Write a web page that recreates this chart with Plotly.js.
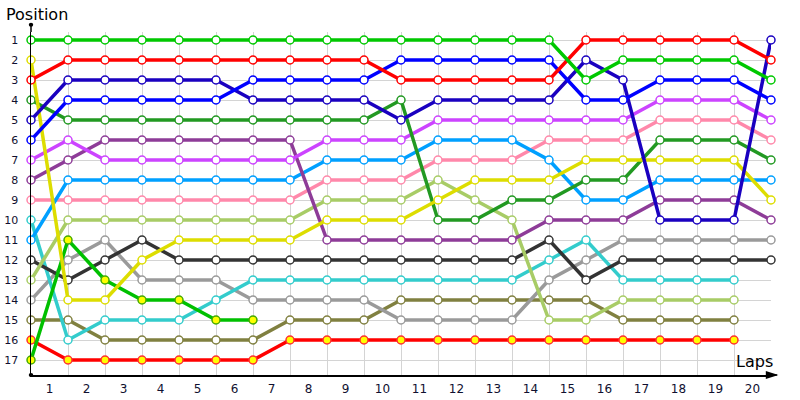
<!DOCTYPE html>
<html>
<head>
<meta charset="utf-8">
<script src="https://cdn.plot.ly/plotly-3.0.1.min.js"></script>
<style>html,body{margin:0;padding:0;background:#fff;}#chart{width:800px;height:400px;}</style>
</head>
<body>
<div id="chart"></div>
<script>
// Laps: 0 = start (grid), 1..20
const laps = [0,1,2,3,4,5,6,7,8,9,10,11,12,13,14,15,16,17,18,19,20];
const lapTickVals = [0.5,1.5,2.5,3.5,4.5,5.5,6.5,7.5,8.5,9.5,10.5,11.5,12.5,13.5,14.5,15.5,16.5,17.5,18.5,19.5];
const lapTickText = ['1','2','3','4','5','6','7','8','9','10','11','12','13','14','15','16','17','18','19','20'];
const positions = [1,2,3,4,5,6,7,8,9,10,11,12,13,14,15,16,17];

// Position of each car after each lap
const carLime      = [1,1,1,1,1,1,1,1,1,1,1,1,1,1,1,3,2,2,2,2,3];
const carRed       = [3,2,2,2,2,2,2,2,2,2,3,3,3,3,3,1,1,1,1,1,2];
const carBlue      = [6,4,4,4,4,4,3,3,3,3,2,2,2,2,2,4,4,3,3,3,4];
const carNavy      = [5,3,3,3,3,3,4,4,4,4,5,4,4,4,4,2,3,10,10,10,1];
const carForest    = [4,5,5,5,5,5,5,5,5,5,4,10,10,9,9,8,8,6,6,6,7];
const carPurple    = [8,7,6,6,6,6,6,6,11,11,11,11,11,11,10,10,10,9,9,9,10];
const carViolet    = [7,6,7,7,7,7,7,7,6,6,6,5,5,5,5,5,5,4,4,4,5];
const carSky       = [11,8,8,8,8,8,8,8,7,7,7,6,6,6,7,9,9,8,8,8,8];
const carPink      = [9,9,9,9,9,9,9,9,8,8,8,7,7,7,6,6,6,5,5,5,6];
const carPaleGreen = [13,10,10,10,10,10,10,10,9,9,9,8,9,10,15,15,14,14,14,14];
const carYellow    = [2,14,14,12,11,11,11,11,10,10,10,9,8,8,8,7,7,7,7,7,9];
const carCharcoal  = [12,13,12,11,12,12,12,12,12,12,12,12,12,12,11,13,12,12,12,12,12];
const carGray      = [14,12,11,13,13,13,14,14,14,14,15,15,15,15,13,12,11,11,11,11,11];
const carCyan      = [10,16,15,15,15,14,13,13,13,13,13,13,13,13,12,11,13,13,13,13];
const carOlive     = [15,15,16,16,16,16,16,15,15,15,14,14,14,14,14,14,15,15,15,15];
const carRedLapped = [16,17,17,17,17,17,17,16,16,16,16,16,16,16,16,16,16,16,16,16];
const carLimeOut   = [17,11,13,14,14,15,15];

const cars = [
  {y: carOlive,     line: '#808040', fill: '#ffffff', edge: '#808040'},
  {y: carGray,      line: '#9a9a9a', fill: '#ffffff', edge: '#9a9a9a'},
  {y: carCyan,      line: '#33cccc', fill: '#ffffff', edge: '#33cccc'},
  {y: carCharcoal,  line: '#333333', fill: '#ffffff', edge: '#333333'},
  {y: carRedLapped, line: '#ff0000', fill: '#ffff00', edge: '#ff3030'},
  {y: carLimeOut,   line: '#00c000', fill: '#ffff00', edge: '#44aa00'},
  {y: carPaleGreen, line: '#a8cc66', fill: '#ffffff', edge: '#a8cc66'},
  {y: carPink,      line: '#ff88aa', fill: '#ffffff', edge: '#ff88aa'},
  {y: carSky,       line: '#00a0ff', fill: '#ffffff', edge: '#00a0ff'},
  {y: carPurple,    line: '#8e3c98', fill: '#ffffff', edge: '#8e3c98'},
  {y: carViolet,    line: '#cc44ff', fill: '#ffffff', edge: '#cc44ff'},
  {y: carForest,    line: '#229922', fill: '#ffffff', edge: '#229922'},
  {y: carYellow,    line: '#dddd00', fill: '#ffffff', edge: '#dddd00'},
  {y: carNavy,      line: '#1a00c0', fill: '#ffffff', edge: '#1a00c0'},
  {y: carBlue,      line: '#0000ff', fill: '#ffffff', edge: '#0000ff'},
  {y: carRed,       line: '#ff0000', fill: '#ffffff', edge: '#ff0000'},
  {y: carLime,      line: '#00c800', fill: '#ffffff', edge: '#00c800'}
];

const traces = cars.map(c => ({
  x: laps.slice(0, c.y.length),
  y: c.y,
  type: 'scatter',
  mode: 'lines+markers',
  cliponaxis: false,
  line: {color: c.line, width: 3.5},
  marker: {symbol: 'circle', size: 8, color: c.fill, line: {color: c.edge, width: 1.5}},
  hoverinfo: 'skip',
  showlegend: false
}));

const tickFont = {family: 'DejaVu Sans, Verdana, sans-serif', size: 11, color: '#101030'};

const layout = {
  width: 800, height: 400,
  margin: {l: 31, r: 29, t: 32, b: 25},
  paper_bgcolor: '#ffffff', plot_bgcolor: '#ffffff',
  showlegend: false,
  xaxis: {
    range: [0, 20],
    tickmode: 'array', tickvals: lapTickVals, ticktext: lapTickText,
    showgrid: false, zeroline: false,
    ticks: '', tickfont: {family: 'DejaVu Sans, Verdana, sans-serif', size: 12, color: '#101030'},
    ticklabelstandoff: 2,
    showline: true, linecolor: '#000000', linewidth: 1.5,
    minor: {tickmode: 'array', tickvals: laps, showgrid: true, gridcolor: '#d4d4d4', gridwidth: 1, ticks: ''}
  },
  yaxis: {
    range: [17.75, 0.6],
    tickmode: 'array', tickvals: positions, ticktext: positions.map(String),
    showgrid: true, gridcolor: '#d4d4d4', gridwidth: 1, zeroline: false,
    ticks: '', tickfont: tickFont, ticklabelstandoff: 9,
    showline: true, linecolor: '#000000', linewidth: 1.5
  },
  yaxis2: {
    range: [17.75, 0.6], overlaying: 'y', side: 'right',
    tickmode: 'array', tickvals: positions, ticktext: positions.map(String),
    showgrid: false, zeroline: false, showline: false,
    ticks: '', tickfont: tickFont, ticklabelstandoff: 2
  },
  shapes: [
    {type: 'line', xref: 'paper', yref: 'paper', x0: 0, x1: 0, y0: 1, y1: 1.023, line: {color: '#000000', width: 1.5}},
    {type: 'circle', xref: 'paper', yref: 'paper', x0: -0.003, x1: 0.003, y0: 1.015, y1: 1.027, fillcolor: '#000000', line: {color: '#000000', width: 0}},
    {type: 'circle', xref: 'paper', yref: 'paper', x0: -0.003, x1: 0.003, y0: -0.006, y1: 0.006, fillcolor: '#000000', line: {color: '#000000', width: 0}},
    {type: 'line', xref: 'paper', yref: 'paper', x0: 1, x1: 1.008, y0: 0, y1: 0, line: {color: '#000000', width: 1.5}},
    {type: 'path', xref: 'paper', yref: 'paper', path: 'M 0.993 0.012 L 1.01 0 L 0.993 -0.012 Z', fillcolor: '#000000', line: {color: '#000000', width: 0}}
  ],
  annotations: [
    {text: 'Position', xref: 'paper', yref: 'paper', x: -0.037, y: 1.05, xanchor: 'left', yanchor: 'middle', showarrow: false,
     font: {family: 'DejaVu Sans, Verdana, sans-serif', size: 16, color: '#000000'}},
    {text: 'Laps', xref: 'paper', yref: 'paper', x: 1.005, y: 0.005, xanchor: 'right', yanchor: 'bottom', showarrow: false,
     font: {family: 'DejaVu Sans, Verdana, sans-serif', size: 16, color: '#000000'}}
  ]
};

Plotly.newPlot('chart', traces, layout, {displayModeBar: false, staticPlot: true});
</script>
</body>
</html>
